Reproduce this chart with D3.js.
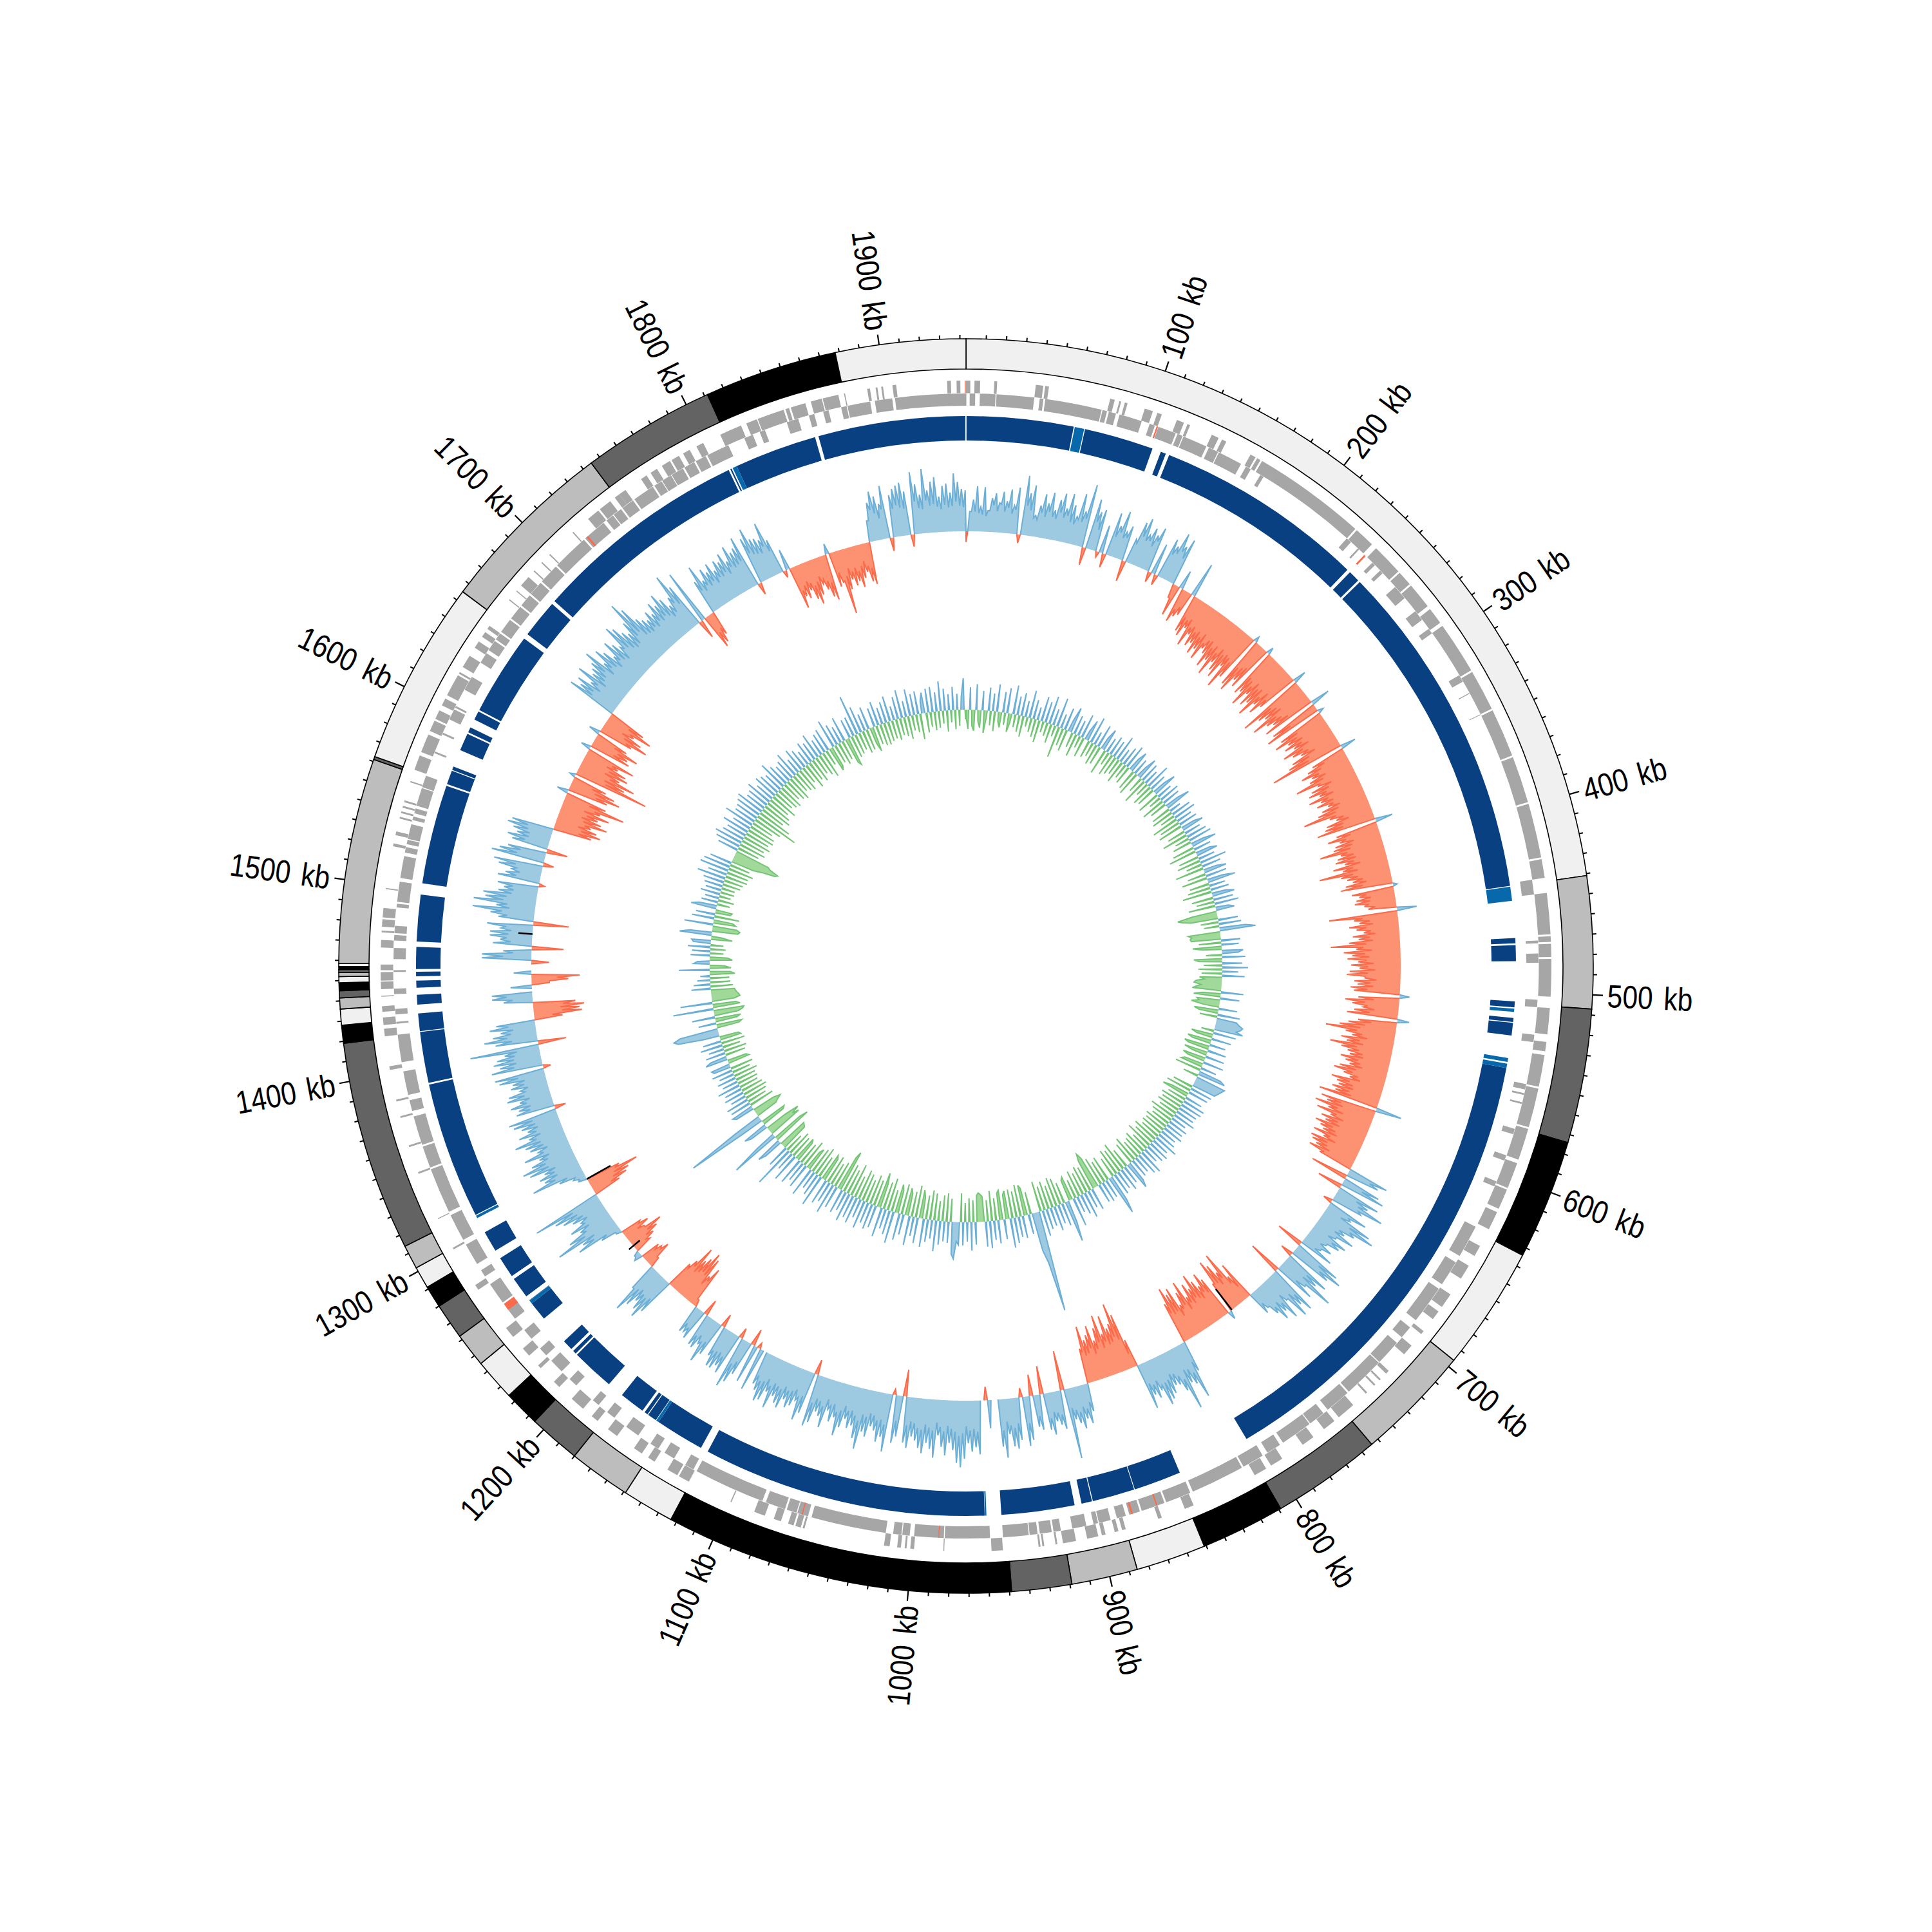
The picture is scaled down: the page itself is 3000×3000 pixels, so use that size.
<!DOCTYPE html>
<html><head><meta charset="utf-8"><style>html,body{margin:0;background:#fff}</style>
<script src="https://cdn.jsdelivr.net/npm/d3@7"></script></head><body><svg id="c" width="3000" height="3000"></svg>
<script>
const genomeKb=1943, windowKb=2.5;
const bandNames=[[0,441,0],[441,507,1],[507,574,2],[574,634,3],[634,696,0],[696,754,1],[754,809,2],[809,851,3],[851,886,0],[886,919,1],[919,949,2],[949,1123,3],[1123,1149,0],[1149,1180,1],[1180,1206,2],[1206,1224,3],[1224,1245,0],[1245,1262,1],[1262,1280,2],[1280,1291,3],[1291,1302,0],[1302,1314,1],[1314,1419,2],[1419,1428,3],[1428,1436,0],[1436,1441.5,1],[1441.5,1445,2],[1445,1449,3],[1449,1452,0],[1452,1454,1],[1454,1455.5,2],[1455.5,1457,3],[1457,1458.5,0],[1458.5,1561,1],[1561,1562.5,2],[1562.5,1655,0],[1655,1745,1],[1745,1811.6,2],[1811.6,1878,3],[1878,1943,0]];
const bandColors=["#f0f0f0","#bdbdbd","#636363","#000000"];
const tickLabels=[100,200,300,400,500,600,700,800,900,1000,1100,1200,1300,1400,1500,1600,1700,1800,1900];
const navyBlocks=[[0.3,61],[67.5,107],[112,115],[117,237],[239,245.5],[246.8,440.5],[470,473],[474,483],[505.7,509],[515,517.3],[517.8,525],[543.5,806],[848,875],[875.4,899.5],[900,906],[910,951.6],[961,1122.7],[1127,1155],[1156.8,1162],[1162.5,1164.5],[1166,1180.5],[1190,1214.5],[1215.5,1217.5],[1219,1225],[1242,1253],[1255,1255.2],[1258,1270],[1272,1284],[1289,1301],[1312,1390],[1391,1420],[1420.5,1430.5],[1435.5,1441],[1445,1449],[1451.5,1454],[1455.5,1468],[1471,1497.6],[1504,1560.5],[1561.5,1569.5],[1570,1572],[1582,1592],[1593,1596],[1601,1606],[1607,1654.5],[1657.5,1679.5],[1681.5,1805],[1806,1806.8],[1810,1857],[1859,1942.6]];
const lightBlocks=[[61.6,67],[441,449],[509.8,511.6],[537.8,540],[541,543.5],[960,960.8],[1155,1156.5],[1253,1255],[1310,1311.5],[1807.5,1810]];
const skewValues=[
-15,28,45,64,35,63,30,48,55,42,58,45,62,40,66,-12,84,60,72,30,45,62,50,66,42,58,68,48,70,55,40,74,50,90,-25,72,55,60,-8,40,
-20,62,45,68,40,50,-30,35,62,70,48,60,52,65,-15,45,-15,58,50,72,55,68,-20,-45,27,-50,-40,-35,50,-55,-60,-45,-70,-50,-65,-58,-72,-62,-75,-55,
-60,-78,-65,-85,-62,-72,-80,-58,-90,-70,8,-75,-82,-60,-68,10,-72,-66,-85,-62,-78,-70,-88,-64,-76,-60,19,-96,-74,-66,-90,-70,-62,-78,28,-72,-84,8,-68,-80,
-62,-70,-58,-78,-66,-55,-72,-80,-108,22,-50,-60,-72,-58,-64,-87,-55,-68,-74,-60,-78,-62,-70,-55,-66,-74,-97,-60,-52,-68,-72,-85,25,-60,-74,-58,-66,-70,-91,-62,
-68,-72,-60,-78,-65,-100,-70,-62,-55,-66,-74,6,-60,-50,-55,-58,-45,-40,28,-97,-62,-55,-70,-60,-50,-66,-58,-72,-98,-62,-80,-68,-75,-60,-70,-58,-72,-76,-50,-65,
-60,-70,-65,14,-58,-76,-66,-50,-62,-72,17,-55,-68,-80,-99,-70,-60,-75,-66,-89,-72,-62,-58,-70,-62,-55,-68,-75,-60,-50,-75,-66,-62,-70,-64,-86,37,-80,-70,-86,
-65,-80,-58,-70,-62,-75,-66,-60,-72,-55,-72,-68,-60,-68,-50,59,48,-54,55,65,-36,63,50,76,45,-13,60,38,73,82,55,42,60,35,55,48,30,42,28,50,
-39,70,80,62,-18,68,55,85,45,60,-48,72,58,73,40,66,50,59,45,30,35,-57,-40,-82,-55,-70,-80,-45,12,-60,-72,-55,-66,-79,-60,-70,-52,-79,-65,-48,
-77,-70,-82,-60,45,83,60,55,92,62,50,48,58,64,70,45,55,48,66,-40,-80,-98,-70,-65,-85,-60,-89,-72,-55,-78,-66,-60,-81,-50,40,56,48,61,52,45,
100,-56,55,48,42,60,52,-40,50,45,-30,62,70,-13,60,72,68,50,83,67,0,0,40,-19,0,76,66,72,60,82,94,88,70,60,78,66,50,82,70,62,
77,70,60,55,72,65,-38,58,68,-8,82,62,70,55,50,66,60,86,72,55,60,48,62,75,50,58,42,70,55,50,68,75,-21,60,72,45,55,60,50,65,
60,52,72,50,65,69,55,48,0,62,-8,55,-24,50,65,75,-15,60,52,59,59,45,-19,50,65,40,50,48,-23,45,38,41,-10,-60,-45,-70,-77,-65,-58,-75,
-50,-40,55,69,60,50,62,76,40,-15,-38,-30,-28,12,8,-25,-35,-45,-55,-30,-40,-30,8,30,65,55,92,70,48,60,40,50,62,72,100,-40,-54,-60,-76,-50,
12,18,37,76,55,60,50,70,78,62,48,68,45,55,60,73,50,63,48,55,65,70,-16,55,50,60,45,62,58,40,52,48,66,71,-11,73,60,68,62,50,
98,-40,60,75,62,50,65,55,-40,-68,-65,-72,-60,41,57,57,0,30,-25,-52,-68,25,0,0,-25,70,70,40,-45,55,45,60,60,45,65,-50,50,62,88,55,
88,72,76,55,48,58,-8,60,50,42,62,70,-15,76,66,55,-30,52,60,48,55,65,60,-55,-67,-60,-50,-72,-62,-55,-70,-55,-89,-60,16,-58,-75,-65,-50,8,
-108,-72,-85,-60,-70,-65,-50,-72,14,-60,-55,-68,-48,16,-50,-72,-60,-45,-70,-55,73,60,68,50,75,55,60,66,80,52,72,62,48,70,60,50,82,75,62,55,
70,99,85,62,55,50,60,52,66,58,72,60,45,55,87,65,-27,79,-50,-45,-35,50,71,45,60,52,62,48,60,55,65,50,70,58,62,75,-17,68,80,62,
60,55,78,50,-10,30,-61,-45,-50,-40,-55,-64,-52,-38,-48,-60,-66,15,-50,-45,-92,-58,-45,-55,-50,-60,-48,-40,-55,-60,30,55,70,62,50,75,-19,60,68,72,
75,62,-17,88,70,55,91,60,72,78,50,65,68,55,82,70,60,58];
const skewTroughs=[
20,30,28,26,24,22,34,38,30,40,30,36,28,34,30,30,42,36,26,24,35,30,38,32,30,40,34,38,30,28,36,34,40,30,20,40,30,30,20,30,
30,28,36,30,32,25,20,30,42,38,40,34,44,30,20,30,20,36,40,46,38,30,20,28,20,30,24,22,30,32,34,30,40,36,42,38,44,36,48,40,
38,46,40,48,38,44,40,42,46,30,20,44,40,36,38,20,42,44,50,40,46,42,52,40,48,36,20,50,44,40,52,46,38,42,20,44,50,20,42,46,
40,44,36,48,42,34,46,50,40,20,32,40,46,38,44,52,36,42,48,40,50,44,46,38,42,48,50,40,34,44,46,50,20,40,48,38,42,46,52,44,
42,46,38,50,44,52,46,40,36,42,48,20,40,34,36,38,30,28,20,50,40,36,46,40,34,42,38,48,52,40,50,44,48,38,46,36,46,50,34,42,
38,46,42,20,36,48,44,34,40,46,20,36,44,50,54,46,38,48,42,50,46,40,38,44,40,36,44,48,38,34,48,42,40,44,40,50,20,50,46,52,
42,50,38,44,40,48,42,38,46,36,46,44,38,44,20,34,20,20,30,20,20,30,36,40,20,20,34,24,42,46,32,28,36,24,34,30,22,28,20,30,
20,40,46,38,20,36,34,44,30,36,20,42,36,40,28,38,32,36,30,20,20,20,30,44,36,42,44,30,20,40,44,36,40,44,38,42,34,44,40,32,
42,40,44,20,30,44,36,34,46,38,32,30,36,38,40,30,34,30,36,20,44,50,44,42,48,40,50,42,36,46,40,38,44,20,26,34,30,36,32,28,
20,20,34,30,28,36,32,20,30,28,20,38,40,20,36,42,38,32,44,20,20,20,20,20,20,44,40,42,36,46,50,44,40,36,44,38,32,44,40,36,
44,42,36,34,40,20,20,36,20,20,44,38,40,34,32,38,36,46,40,34,36,30,38,42,32,36,28,40,34,32,40,20,20,36,40,30,34,36,32,38,
36,34,40,32,38,40,34,30,20,20,20,20,20,32,38,20,20,36,32,34,36,20,20,32,36,28,32,30,20,30,26,20,20,38,30,42,44,40,36,42,
34,20,34,38,36,32,36,42,20,20,26,20,20,20,20,20,24,30,30,20,26,20,20,20,38,34,46,40,32,36,28,32,38,42,20,28,34,38,42,30,
10,14,24,40,34,36,32,40,42,36,32,38,30,34,36,40,32,36,32,34,36,20,20,34,32,36,30,36,34,28,32,30,38,20,20,40,36,38,36,32,
20,20,36,42,36,32,38,20,26,40,38,42,20,28,36,20,20,20,28,36,20,20,20,20,20,40,26,20,32,30,36,34,30,38,20,32,38,46,36,40,
46,42,36,34,36,20,20,34,30,36,38,20,20,40,36,20,30,34,30,30,34,36,20,36,38,32,40,36,32,38,32,46,36,20,34,40,36,30,20,20,
44,40,46,36,40,34,40,20,20,34,38,30,20,30,40,34,28,38,32,20,38,40,32,40,30,36,38,44,32,40,36,30,38,34,30,44,42,36,32,34,
44,46,36,34,32,36,32,38,34,38,34,28,32,44,38,20,20,20,28,24,20,34,30,36,32,36,30,36,34,38,32,40,36,38,40,20,20,44,40,38,
36,44,34,20,20,20,36,30,26,30,36,32,26,32,36,40,20,20,30,44,38,28,34,30,36,30,24,32,36,20,34,44,38,30,42,20,20,40,44,40,
38,20,20,46,36,34,46,38,40,36,32,38,34,36,42,36,34,30];
const innerValues=[
-20,-60,70,-50,-65,80,-35,-55,60,-70,-25,72,-45,55,-62,85,-30,-48,64,-38,78,-58,-28,90,-40,58,-52,72,-65,50,-30,86,-44,60,-56,40,-70,78,-34,66,
-42,88,-60,52,-35,92,-98,45,-55,70,-68,35,80,-48,60,-72,50,-38,76,-62,30,66,-55,84,-45,42,-66,72,-58,38,70,-80,48,-42,62,-70,55,-60,80,-52,
44,-72,60,-48,75,-58,40,68,-65,52,-75,35,70,-50,62,-82,48,-44,80,-68,55,-60,42,78,-72,50,-40,66,-76,58,-55,45,82,-62,38,-70,64,-48,72,-85,
50,-66,60,-78,44,70,-58,52,-82,65,-46,74,-60,40,80,-70,55,-88,46,68,-64,52,-74,84,-50,60,-90,42,72,-58,66,-80,48,88,-62,50,-72,58,-92,44,
70,-68,62,-56,76,-84,40,58,-76,-124,-110,-85,62,-56,70,-48,80,112,-100,-90,-95,-92,60,-70,54,-90,-60,66,50,-50,72,-88,-72,62,-58,80,-74,50,-64,70,
-70,-55,-80,-86,-64,-78,-90,70,-58,-84,60,-72,-65,-88,-50,58,-76,-60,70,-55,62,72,85,80,68,90,-40,72,-68,-50,62,-75,-60,50,-80,-66,58,-74,-48,60,
-72,-55,65,-60,-70,50,-82,72,88,-48,95,90,85,80,75,-64,70,-80,64,-58,-85,55,-60,72,-75,70,-66,62,-74,60,-60,72,-82,50,-70,64,-62,58,-76,66,
-68,52,-72,60,-64,78,-82,56,-70,68,-88,62,-58,50,-76,80,-66,72,-60,55,-84,60,-70,66,88,-62,58,-92,74,-78,60,-86,70,-64,84,126,-80,60,-72,66,
-90,60,-100,-118,-95,70,-80,56,-88,82,-72,64,-84,52,-60,90,-76,-68,70,130,-66,72,-85,60,-92,78,-70,58,-88,64,-76,82,-95,70,316,160,120,-70,62,-85,
-96,70,-100,64,-82,80,-90,92,-88,-76,62,-92,-84,72,-70,60,-94,84,-66,78,-78,-85,-90,-82,70,-68,88,-75,60,-60,72,-90,70,60,114,100,-72,66,-88,62,
-80,74,-62,96,-84,58,-92,70,-74,88,-66,-88,80,-100,60,-78,92,-70,-86,64,-95,84,-72,-90,100,-68,76,-102,62,-86,92,-76,-110,70,-82,80,-94,66,-74,88,
-88,60,-96,84,-70,72,-104,90,-80,62,-92,76,-130,-110,70,-84,96,-72,66,-90,80,-76,-86,100,-70,72,-94,58,-82,92,-74,-60,78,-88,64,-70,84,-66,-78,90,
-72,60,-80,132,-60,70,-88,-92,-96,60,84,-126,-100,158,70,-110,-90,-116,-70,60,80,-76,-84,70,258,90,-70,-80,-94,-72,60,70,-80,66,-62,72,-70,50,-78,64,
-70,56,-60,72,-66,50,-64,60,-76,48,-58,66,-72,54,60,-68,-60,70,52,-64,62,-72,48,-56,70,-74,58,-66,-60,50,130,142,120,-70,-80,56,-68,-80,72,-75,
-90,-95,126,-85,-72,100,-70,-88,-85,-80,-76,-74,60,-70,52,-62,40,-60,30,-78,-64,96,-66,-46,50,38,-70,-55,60,-42,56,-48,70,-40,54,60,-66,-32,100,70,
-80,-86,-75,90,-70,-60,70,-78,60,-48,-52,80,56,-40,52,-50,44,-36,62,-44,50,-42,58,-56,66,-60,90,-70,60,-68,92,-80,85,-64,70,-72,-100,-140,-148,-120,
-110,66,-70,80,-85,90,-76,72,-90,64,-78,86,-88,60,-84,95,-70,70,-92,74,-140,82,-110,90,-78,66,-94,70,-84,84,-70,60,-88,78,-66,70,-74,62,-80,92,
-62,70,-72,58,-80,66,-60,82,-68,50,-74,75,-56,62,-82,48,-64,70,-76,60,-58,80,-70,52,-84,64,-50,72,-78,-66,90,-60,68,-72,54,-62,78,-80,-90,60,
-70,62,-64,126,-56,84,-72,54,-66,72,-52,-78,60,-60,76,-68,52,-70,66,-62,80,-58,44,-66,70,-54,88,-60,50,-72,84,-48,66,-56,72,-80,40,64,-62,74,
-46,78,-58,60,-52,92,-40,68,-66,50,-38,72,-60,50,-50,40,98,-30];
const blackMarks=[[768,-37,0],[1480,0,20],[1299,-38,0],[1241,-12,8]];
const outerGenes=[[0,2.3],[4.5,7.5],[15,16.5],[37,41],[42,44],[77,79.5],[82,83],[85,86.5],[96,100.5],[103,105.5],[114,118],[120,121.5],[134,138],[140,142.5],[157,160],[161,163],
[164,225],[226,237],[240,257],[258,266],[267,281],[283,292],[294,322],[323,345],[346,372],[373,398],[399,428],[429,439],[447,469],[470,473],[474,481],[482,502],[508,522],[526,531],[533,550],[551,572],[573,590],[592,606],[607,618],[620,630],
[640,646],[652,660],[670,678],[681,686],[694,696],[704,710],[722,724],[728,729],[732,733],[738,739],[748,758],[761,768],[775,782],[795,802],[805,812],[848,853],[866,868],[886,888],[890,892],[897,899],[901,907],[913,920],[923,924],[930,931],[932,933],[952,958],[983,983.5],[999,1001],[1003,1004],[1006,1008],[1012,1015],[1058,1059],[1060,1063],[1064,1067],[1071,1075],[1080,1086],[1099,1099.6],[1124,1130],[1131,1137],[1145,1149],[1153,1158],[1169,1175],[1182,1186],[1192,1200],[1209,1213],[1223,1225],[1232,1237],[1245,1251],[1276,1279],[1301,1302],[1319,1319.5],[1345,1346],[1360,1361],[1376,1377],[1385,1386],[1402,1404],[1420,1424],[1426,1430],[1433,1436],[1441,1441.5],[1445,1449],[1449.5,1454],[1455,1458],[1467,1471],[1475,1476],[1478,1482],[1483,1488],[1498,1498.6],[1521,1522.5],[1527,1529],[1536,1537],[1539,1540],[1542,1543],[1545,1546],[1556,1556.7],
[1563,1571],[1573,1583],[1585,1591],[1592,1597],[1600,1604],[1606,1618],[1619,1620],[1623,1630],[1635,1639],[1642,1645],[1647,1649],[1666,1666.6],[1672,1672.6],[1676,1682],[1686,1686.7],[1692,1692.7],[1698,1698.7],[1715,1715.7],[1726,1733],[1734,1741],[1744,1747],[1747,1751],[1761,1764.5],[1767,1771],[1774,1779],[1780,1784.5],[1787,1791],[1795,1799],[1809,1821],[1824,1830],[1830.5,1845],[1846,1848],[1849,1857],[1860,1866],[1866.5,1875],[1878,1878.6],[1890.5,1892],[1895,1896],[1898,1899],[1904,1906],[1933,1935],[1938,1940]];
const innerGenes=[[0,0.2],[2,5],[7.5,16],[16.5,37],[40,42],[43,74],[74.5,77],[78,82],[84,96.5],[101,104],[106,116],[117,120],[120.5,134],[135.5,141],[141.5,155],[158,161],
[167,169],[225,228],[233,234],[244,246],[250,252],[262,270],[279,285],[291,294],[321,325],[332,332.5],[345,345.4],[439,447],[472,473.5],[479,484],[504,508],[523,527],[550,553],[555,556],[560,561],[575,578],[590,593],[605,608],
[632,650],[654,668],[671,692],[697,704],[708,722],[722.5,745],[746,760],[763,772],[772.5,790],[792,800],[803,815],[816,845.5],[847,861],[862,875],[876,882],[884,889],[892.5,899],[899.5,902],[906,913.7],[920,924],[925,931.5],[932.7,937],[937.5,951.5],[958.5,983],[983.5,999.6],[1002,1006],[1006.5,1011],[1015,1056],[1058,1064],[1064.5,1070],[1071,1082],[1084,1123],[1125,1130],[1137,1143],[1147,1152],[1160,1168],[1176,1181],[1187,1191],[1203,1208],[1214,1222],[1226,1231],[1238,1244],[1252,1260],[1263,1275],[1280,1284],[1288,1300],[1303,1318],[1320,1345],[1346,1358],[1359,1375],[1378,1384],[1387,1400],[1405,1420],[1426,1427],[1431,1434],[1442,1445],[1454,1455],[1461,1467],[1471,1474],[1475,1479],[1489,1491],[1492,1503],[1505,1517],[1519,1522],[1523.6,1526],[1526.5,1534.7],[1537,1539],[1540.8,1543.5],[1545,1555],[1555.5,1562],[1575,1576],[1586,1587],[1595,1601],[1602,1603],[1613,1621],[1630,1636],[1638,1644],[1645,1649],
[1650,1658],[1659,1667],[1668,1675],[1676,1684],[1685,1696],[1697,1717],[1718,1731],[1733,1737.5],[1738,1743],[1744,1751],[1752,1764],[1765,1769.6],[1770,1775.6],[1776,1783],[1784,1790],[1791,1797],[1798,1810.6],[1820,1825],[1829,1832],[1844.5,1851],[1857,1860],[1865,1868],[1875,1878],[1878.5,1891],[1893.5,1903],[1904.5,1943]];
const redOuter=[[1942.4,1942.9]];
const redInner=[[105,105.8],[238,239],[866,866.7],[880,881],[986,986.4],[1061,1061.6],[1258,1262],[1719,1720]];

const svg=d3.select("#c");
const root=svg.append("g").attr("transform","translate(1500,1500)");
const angle=d3.scaleLinear().domain([0,genomeKb]).range([0,2*Math.PI]);
const skewR=d3.scaleLinear().domain([-100,100]).range([565,785]);
const innerR=d3.scaleLinear().domain([-100,100]).range([348,448]);
const rings={band:[927,974],outerGene:[889.5,909],innerGene:[870,889],navy:[816,854]};
const arc=d3.arc();
function arcs(g,data,ring,fill){
  g.selectAll(null).data(data).join("path")
   .attr("d",d=>arc({innerRadius:ring[0],outerRadius:ring[1],startAngle:angle(d[0]),endAngle:angle(d[1])}))
   .attr("fill",fill);
}
arcs(root.append("g").attr("stroke","#000").attr("stroke-width",1.6),bandNames,rings.band,d=>bandColors[d[2]]);
const tickG=root.append("g");
const minor=d3.range(10,genomeKb,10).filter(k=>k%100!==0);
tickG.selectAll(null).data(minor).join("line")
 .attr("transform",k=>`rotate(${angle(k)*180/Math.PI-90})`)
 .attr("x1",974).attr("x2",980).attr("stroke","#000").attr("stroke-width",2);
tickG.selectAll(null).data(tickLabels).join("line")
 .attr("transform",k=>`rotate(${angle(k)*180/Math.PI-90})`)
 .attr("x1",974).attr("x2",990).attr("stroke","#000").attr("stroke-width",2.2);
tickG.selectAll(null).data(tickLabels).join("text")
 .attr("transform",k=>{const a=angle(k)*180/Math.PI-90;const flip=k>genomeKb/2;return `rotate(${a}) translate(997,0)`+(flip?" rotate(180)":"")+" scale(0.85,1)";})
 .attr("text-anchor",k=>k>genomeKb/2?"end":"start").attr("dy","0.36em")
 .attr("font-family","'Liberation Sans',sans-serif").attr("font-size",50).attr("word-spacing",6).attr("fill","#000")
 .text(k=>k+" kb");
arcs(root.append("g"),outerGenes,rings.outerGene,"#a6a6a6");
arcs(root.append("g"),innerGenes,rings.innerGene,"#a6a6a6");
arcs(root.append("g"),redOuter,rings.outerGene,"#fb6a4a");
arcs(root.append("g"),redInner,rings.innerGene,"#fb6a4a");
arcs(root.append("g"),navyBlocks,rings.navy,"#084081");
arcs(root.append("g"),lightBlocks,rings.navy,"#0868ac");
// each window value is followed by the trough read between it and the next window
const skewSeries=skewValues.flatMap((v,i)=>{
  const n=skewValues[i+1];
  if(n===undefined) return [v];
  if(v*n<=0) return [v,0];
  return [v,Math.sign(v)*Math.min(skewTroughs[i],Math.abs(v),Math.abs(n))];
});
function runs(vals,sign,step,half){
  const out=[];let cur=null;
  vals.forEach((v,i)=>{
    if(v*sign>0){ if(!cur){cur=[{kb:Math.max(0,i*step-half),v:0}];} cur.push({kb:i*step,v}); }
    else if(cur){cur.push({kb:(i-1)*step+half,v:0});out.push(cur);cur=null;}
  });
  if(cur){cur.push({kb:genomeKb,v:0});out.push(cur);}
  return out;
}
function track(vals,rScale,styles,step,half){
  const base=rScale(0);
  const area=d3.areaRadial().angle(d=>angle(d.kb)).innerRadius(base).outerRadius(d=>rScale(d.v));
  const line=d3.lineRadial().angle(d=>angle(d.kb)).radius(d=>rScale(d.v));
  const g=root.append("g");
  styles.forEach(s=>g.append("g").selectAll("path").data(runs(vals,s.sign,step,half)).join("path").attr("d",area).attr("fill",s.fill));
  styles.forEach(s=>g.append("g").selectAll("path").data(runs(vals,s.sign,step,half)).join("path").attr("d",line).attr("fill","none").attr("stroke",s.line).attr("stroke-width",2));
}
track(skewSeries,skewR,[{sign:1,fill:"#9ecae1",line:"#6baed6"},{sign:-1,fill:"#fc9272",line:"#fb6a4a"}],windowKb/2,windowKb/2);
track(innerValues,innerR,[{sign:1,fill:"#9ecae1",line:"#6baed6"},{sign:-1,fill:"#a1d99b",line:"#74c476"}],windowKb,0.7);
root.append("g").selectAll("line").data(blackMarks).join("line")
 .attr("transform",d=>`rotate(${angle(d[0])*180/Math.PI-90})`)
 .attr("x1",d=>skewR(d[1])).attr("x2",d=>skewR(d[2])).attr("stroke","#000").attr("stroke-width",2.5);
</script></body></html>
